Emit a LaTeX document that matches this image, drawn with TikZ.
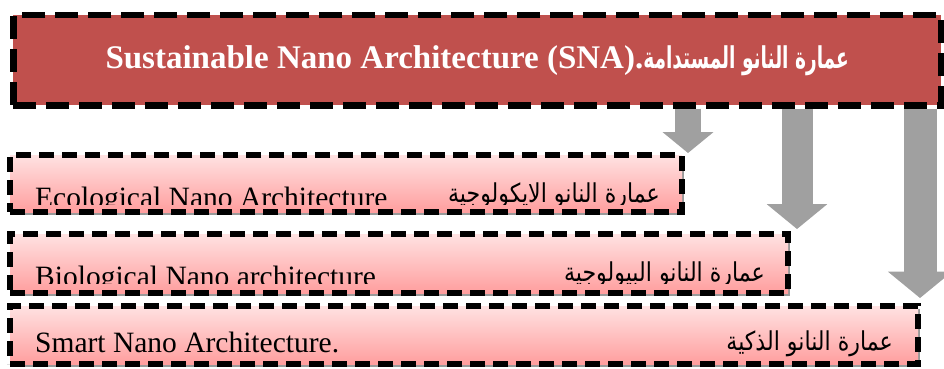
\documentclass[tikz,border=0pt]{standalone}
\usepackage{fontspec}
\setmainfont{Liberation Serif}
\newfontfamily\arabicfont[Script=Arabic]{DejaVu Sans}
\TeXXeTstate=1
\usetikzlibrary{positioning, arrows.meta, shadows, backgrounds}
\definecolor{snared}{RGB}{192,80,77}
\definecolor{pinktop}{RGB}{255,226,226}
\definecolor{pinkbot}{RGB}{255,158,158}
\definecolor{arrowgray}{RGB}{160,160,160}
\newcommand{\artxt}[1]{\scalebox{0.85}[1]{\beginR #1\endR}}

\begin{document}
\begin{tikzpicture}[x=1pt, y=-1pt,
	titlebox/.style={rectangle, draw=black, fill=snared, line width=6.5pt, dash pattern=on 23pt off 10pt, inner sep=0pt, text=white, minimum width=928pt, minimum height=90pt},
	levelbox/.style={rectangle, draw=black, line width=5.5pt, dash pattern=on 15pt off 8pt, top color=pinktop, bottom color=pinkbot, inner sep=0pt, outer sep=0pt, drop shadow={shadow xshift=2pt, shadow yshift=-3pt, fill=gray!80, opacity=1}},
	entext/.style={anchor=base west, inner sep=0pt, font=\fontsize{29.5}{31}\selectfont},
	artext/.style={anchor=base east, inner sep=0pt, font=\fontsize{26}{31}\selectfont\arabicfont},
	blockarrow/.style={draw=arrowgray, line width=#1, -{Triangle[line width=0pt, length=0.8*#1, width=1.95*#1]}}
]
\useasboundingbox (0,0) rectangle (944,369);

\node[titlebox, anchor=north west] (sna) at (10,12) {\fontsize{33}{36}\selectfont\bfseries Sustainable Nano Architecture (SNA).{\arabicfont\fontsize{30}{36}\selectfont\scalebox{0.62}[1]{\beginR عمارة النانو المستدامة\endR}}};

\node[levelbox, anchor=north west, minimum width=672pt, minimum height=57pt] (eco) at (10,155) {};
\node[levelbox, below=22pt of eco.south west, anchor=north west, minimum width=778pt, minimum height=59pt] (bio) {};
\node[levelbox, below=13pt of bio.south west, anchor=north west, minimum width=908pt, minimum height=58pt] (smart) {};

\coordinate (ecotip) at (688,153);
\coordinate (biotip) at (797,229);
\coordinate (smarttip) at (920,298);

\begin{scope}[on background layer]
\draw[blockarrow=26pt] (sna.south -| ecotip) -- (ecotip);
\draw[blockarrow=31pt] (sna.south -| biotip) -- (biotip);
\draw[blockarrow=33pt] (sna.south -| smarttip) -- (smarttip);
\end{scope}

\begin{scope}
\clip (eco.north west) rectangle ([yshift=7.5pt]eco.south east);
\node[entext] (ecoen) at (35,207) {Ecological Nano Architecture};
\node[artext] (ecoar) at (660,202) {\artxt{عمارة النانو الايكولوجية}};
\end{scope}

\begin{scope}
\clip (bio.north west) rectangle ([yshift=9.5pt]bio.south east);
\node[entext] (bioen) at (35,286) {Biological Nano architecture};
\node[artext] (bioar) at (765,281) {\artxt{عمارة النانو البيولوجية}};
\end{scope}

\node[entext] (smarten) at (35,352) {Smart Nano Architecture.};
\node[artext] (smartar) at (893,350) {\artxt{عمارة النانو الذكية}};

\end{tikzpicture}
\end{document}
